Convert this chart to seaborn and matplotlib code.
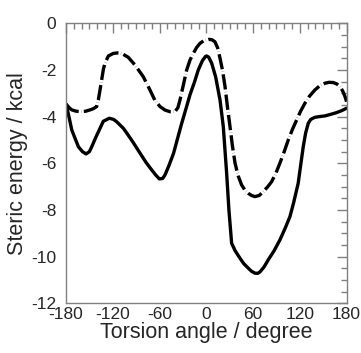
import seaborn as sns
import matplotlib.pyplot as plt
import pandas as pd
from matplotlib.ticker import MultipleLocator

# torsion angle (degree) and steric energy (kcal)
ang_solid = [-180, -176, -172.7, -168, -164.2, -159, -154.3, -150, -147, -142, -136.4,
             -132.2, -124.5, -119, -115, -106.5, -102, -94, -85, -77, -70, -65,
             -60.3, -56, -53, -48, -42, -37, -31.6, -26, -21, -15, -10.3, -5, -1, 0.4,
             3, 6.9, 12, 17.6, 21.8, 26.1, 29, 32.5, 37, 43.2, 48,
             53.9, 58, 62.4, 66, 68.8, 74, 79.5, 87, 94.4, 101, 107.3, 112, 117.9, 124.4,
             127.5, 130.8, 134, 139.3, 145, 152.2, 160, 167.1, 174, 180]
e_solid = [-3.46, -4.05, -4.57, -4.97, -5.29, -5.5, -5.6, -5.5, -5.29, -4.9, -4.5,
           -4.2, -4.07, -4.12, -4.22, -4.5, -4.71, -5.1, -5.57, -5.98, -6.29, -6.5,
           -6.67, -6.65, -6.5, -6.1, -5.57, -4.95, -4.29, -3.65, -3.07, -2.5, -2.0, -1.6, -1.42, -1.4,
           -1.45, -1.71, -2.3, -3.29, -4.43, -6.43, -8.0, -9.43, -9.75, -10.07, -10.3,
           -10.5, -10.63, -10.71, -10.72, -10.66, -10.45, -10.14, -9.75, -9.29, -8.8, -8.29, -7.7, -6.86, -5.29,
           -4.7, -4.29, -4.12, -4.03, -4.0, -3.97, -3.9, -3.83, -3.74, -3.64]

ang_dash = [-180, -176, -172.7, -168, -162, -155, -149, -145, -140.7, -138.6, -136.4,
            -134.2, -132, -130, -125.7, -119.3, -114, -108.6, -100.1, -91.5,
            -80.9, -72.3, -66, -59.4, -53, -46.6, -40.3, -36.5, -33.8, -29.5, -25.2, -21, -16.7,
            -12.5, -8.1, -3, 2.6, 7, 11, 14.5, 17.6,
            21, 24, 27, 30.4, 33.5, 36.9, 41, 45.3, 49.5, 53.9, 58, 62.4, 68, 73.2, 78.5, 83.8,
            89, 94.4, 100, 105.2, 110.5, 116, 121, 126.5, 132.5, 139.3, 145.5,
            152.2, 157.5, 162.9, 167.5, 171.5, 175, 178, 180]
e_dash = [-3.46, -3.62, -3.71, -3.76, -3.79, -3.77, -3.71, -3.66, -3.57, -3.29, -2.85,
          -2.4, -1.95, -1.71, -1.4, -1.29, -1.27, -1.29, -1.46, -1.79,
          -2.29, -2.86, -3.3, -3.57, -3.72, -3.79, -3.79, -3.62, -3.29, -2.65, -2.0, -1.58, -1.29,
          -1.04, -0.86, -0.74, -0.69, -0.7, -0.79, -1.05, -1.5,
          -2.05, -2.71, -3.55, -4.43, -5.25, -6.0, -6.55, -6.93, -7.15, -7.29, -7.38, -7.43, -7.38, -7.21, -7.02, -6.79,
          -6.45, -6.0, -5.5, -5.0, -4.55, -4.14, -3.77, -3.43, -3.12, -2.86, -2.68,
          -2.57, -2.53, -2.54, -2.6, -2.71, -2.9, -3.14, -3.36]

sns.set_style("white")
plt.rcParams['font.family'] = ['Liberation Sans', 'DejaVu Sans']
plt.rcParams['axes.unicode_minus'] = False

fig, ax = plt.subplots(figsize=(3.61, 3.53), dpi=100)
fig.subplots_adjust(left=0.183, right=0.960, top=0.934, bottom=0.141)

df1 = pd.DataFrame({"angle": ang_solid, "energy": e_solid})
df2 = pd.DataFrame({"angle": ang_dash, "energy": e_dash})
sns.lineplot(data=df1, x="angle", y="energy", ax=ax, color="black", lw=2.4, sort=False)
sns.lineplot(data=df2, x="angle", y="energy", ax=ax, color="black", lw=2.4, sort=False)
ax.lines[1].set_dashes([4.6, 0.75, 0.05, 0.75])
ax.lines[1].set_dash_capstyle("butt")
for ln in ax.lines:
    ln.set_solid_joinstyle("round")
    ln.set_dash_joinstyle("round")

ax.set_xlim(-180, 180)
ax.set_ylim(-12, 0)
ax.xaxis.set_major_locator(MultipleLocator(60))
ax.xaxis.set_minor_locator(MultipleLocator(10))
ax.yaxis.set_major_locator(MultipleLocator(2))
ax.yaxis.set_minor_locator(MultipleLocator(0.5))
ax.tick_params(which="both", direction="in", top=True, right=True, color="#808080",
               labelsize=12.5)
ax.tick_params(axis="x", which="major", pad=3)
ax.tick_params(axis="y", which="major", pad=7)
ax.tick_params(which="major", length=7, width=1)
ax.tick_params(which="minor", length=4, width=1)
for s in ax.spines.values():
    s.set_color("#808080")
    s.set_linewidth(1)

ax.set_xlabel("Torsion angle / degree", fontsize=15.5, labelpad=0)
ax.set_ylabel("Steric energy / kcal", fontsize=15.5, labelpad=2)

plt.savefig("out.png", dpi=100)
plt.close()
